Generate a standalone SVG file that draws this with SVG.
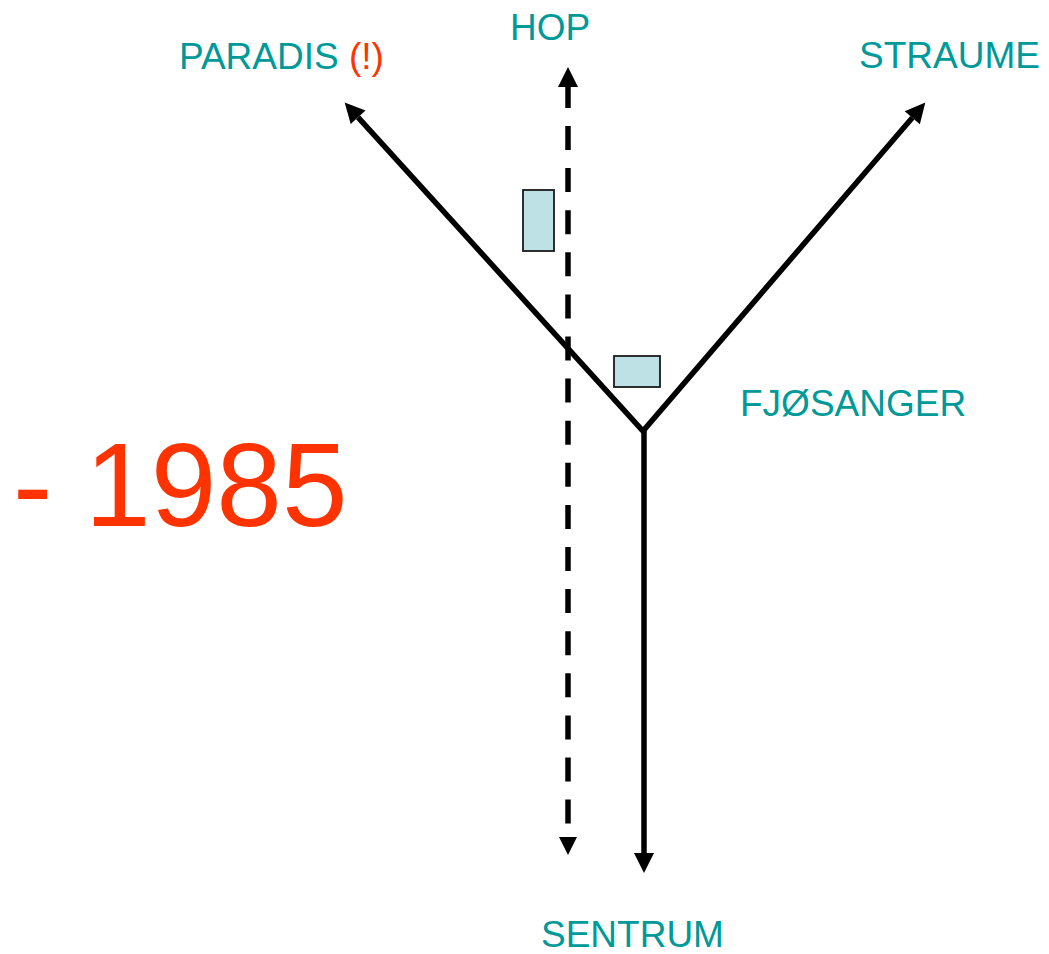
<svg xmlns="http://www.w3.org/2000/svg" width="1049" height="954" viewBox="0 0 1049 954">
<style>
.lbl{font-family:"Liberation Sans",Arial,sans-serif;font-size:37px;fill:#009999}
.red{fill:#FF3300}
.ln{stroke:#000;stroke-width:5.5;fill:none}
.box{fill:#BDE1E4;stroke:#1a1a1a;stroke-width:1.8}
</style>
<defs>
<marker id="ah" markerUnits="userSpaceOnUse" markerWidth="20" markerHeight="20" viewBox="0 -9 18 18" refX="0" refY="0" orient="auto-start-reverse" overflow="visible">
<path d="M0,-9 L18,0 L0,9 z" fill="#000"/>
</marker>
</defs>
<rect width="1049" height="954" fill="#fff"/>
<g id="connectors">
<polyline class="ln" points="358.1,117.3 643,431 912.3,117.7" stroke-linejoin="miter" marker-start="url(#ah)" marker-end="url(#ah)"/>
<line class="ln" x1="644" y1="431" x2="644" y2="853" marker-end="url(#ah)"/>
<line class="ln" x1="568" y1="108" x2="568" y2="87" marker-end="url(#ah)"/>
<line class="ln" x1="568" y1="126" x2="568" y2="824" stroke-dasharray="24 18.1"/>
<path d="M559,837 L577,837 L568,855 z" fill="#000"/>
</g>
<g id="box1"><rect class="box" x="523" y="190" width="31" height="61"/></g>
<g id="box2"><rect class="box" x="614" y="356" width="46" height="31"/></g>
<g id="hop"><text class="lbl" x="510" y="40">HOP</text></g>
<g id="paradis"><text class="lbl" x="179" y="69">PARADIS <tspan class="red">(!)</tspan></text></g>
<g id="straume"><text class="lbl" x="859" y="68">STRAUME</text></g>
<g id="fjosanger"><text class="lbl" x="740" y="416">FJØSANGER</text></g>
<g id="sentrum"><text class="lbl" x="541" y="947">SENTRUM</text></g>
<g id="year"><text x="13" y="526" font-family="'Liberation Sans',Arial,sans-serif" font-size="118" fill="#FF3300">- 1985</text></g>
</svg>
